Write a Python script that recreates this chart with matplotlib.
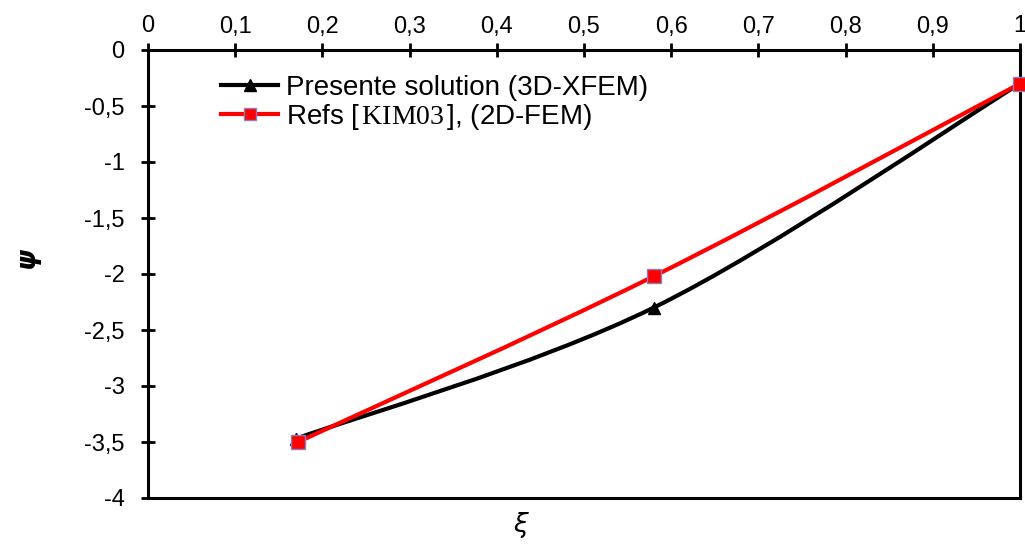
import matplotlib
matplotlib.use("Agg")
import matplotlib.pyplot as plt
import numpy as np
from matplotlib.path import Path
from matplotlib.patches import PathPatch
from matplotlib.lines import Line2D
from matplotlib.ticker import FuncFormatter

plt.rcParams['font.family'] = ['Liberation Sans', 'DejaVu Sans']
plt.rcParams['mathtext.fontset'] = 'custom'
plt.rcParams['mathtext.rm'] = 'Liberation Serif'
plt.rcParams['mathtext.it'] = 'Liberation Serif:italic'

# Normalised crack position and stress-intensity ratio
xi_xfem = [0.17, 0.58, 1.0]
psi_xfem = [-3.47, -2.30, -0.30]
xi_ref = [0.172, 0.58, 1.0]
psi_ref = [-3.50, -2.02, -0.30]

label_xfem = "Presente solution (3D-XFEM)"
label_ref = r"Refs [$\,\mathrm{KIM03}\,$], (2D-FEM)"

xticks = [0, 0.1, 0.2, 0.3, 0.4, 0.5, 0.6, 0.7, 0.8, 0.9, 1.0]
yticks = [0, -0.5, -1, -1.5, -2, -2.5, -3, -3.5, -4]


def smooth_path(x, y):
    """Cubic Bezier path through the points (spreadsheet-style smoothing)."""
    p = np.column_stack([x, y]).astype(float)
    ext = np.vstack([p[0], p, p[-1]])
    verts = [p[0]]
    codes = [Path.MOVETO]
    for i in range(len(p) - 1):
        p0, p1, p2, p3 = ext[i], ext[i + 1], ext[i + 2], ext[i + 3]
        c1 = p1 + (p2 - p0) / 6.0
        c2 = p2 - (p3 - p1) / 6.0
        verts += [c1, c2, p2]
        codes += [Path.CURVE4] * 3
    return Path(verts, codes)


fig = plt.figure(figsize=(10.25, 5.45), dpi=100)
ax = fig.add_axes([148 / 1025, 1 - 498 / 545, (1020 - 148) / 1025, (498 - 50) / 545])

black = '#000000'
red = '#ff0000'

ax.add_patch(PathPatch(smooth_path(xi_xfem, psi_xfem), fill=False,
                       edgecolor=black, lw=3.0, capstyle='round', joinstyle='round', zorder=3))
ax.plot(xi_xfem, psi_xfem, linestyle='none', marker='^', ms=8, color=black,
        clip_on=False, zorder=4)

ax.add_patch(PathPatch(smooth_path(xi_ref, psi_ref), fill=False,
                       edgecolor=red, lw=3.0, capstyle='round', joinstyle='round', zorder=5))
ax.plot(xi_ref, psi_ref, linestyle='none', marker='s', ms=10, markerfacecolor=red,
        markeredgecolor='#8a7fc0', markeredgewidth=1.0, clip_on=False, zorder=6)

ax.set_xlim(0, 1)
ax.set_ylim(-4, 0)

comma = FuncFormatter(lambda v, _: ('%g' % v).replace('.', ','))
ax.set_xticks(xticks)
ax.set_yticks(yticks)
ax.xaxis.set_major_formatter(comma)
ax.yaxis.set_major_formatter(comma)

ax.xaxis.tick_top()
ax.tick_params(axis='x', which='both', top=True, bottom=False, direction='inout',
               length=10, width=2, labelsize=17, pad=4)
ax.tick_params(axis='y', which='both', left=True, right=False, direction='inout',
               length=10, width=2, labelsize=17, pad=12)
for s in ax.spines.values():
    s.set_linewidth(2.2)

ax.text((520 - 148) / 872, -(525 - 498) / 448, 'ξ', transform=ax.transAxes,
        ha='center', va='center', fontsize=19, fontstyle='italic', family=['DejaVu Sans'])
ax.text(-(148 - 27) / 872, 1 - (258 - 50) / 448, 'ψ', transform=ax.transAxes,
        ha='center', va='center', rotation=90, fontsize=19, fontstyle='italic',
        fontweight='bold', family=['DejaVu Sans'])

handles = [
    Line2D([], [], color=black, lw=3.0, marker='^', ms=8),
    Line2D([], [], color=red, lw=3.0, marker='s', ms=8, markerfacecolor=red,
           markeredgecolor='#8a7fc0', markeredgewidth=1.0),
]
ax.legend(handles, [label_xfem, label_ref], loc='upper left',
          bbox_to_anchor=((210 - 148) / 872, 1 - (64 - 50) / 448), frameon=False,
          fontsize=20, handlelength=2.05, handletextpad=0.3, labelspacing=0.04,
          borderaxespad=0)

fig.savefig('out.png', dpi=100)
